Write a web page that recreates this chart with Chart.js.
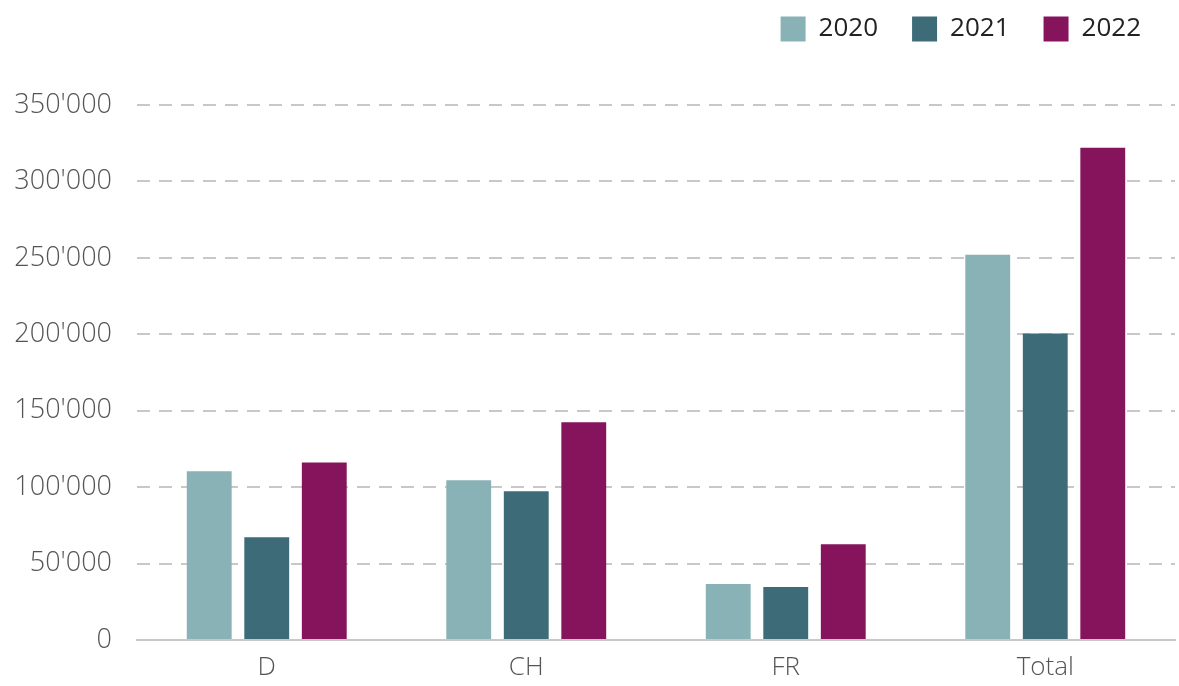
<!DOCTYPE html>
<html>
<head>
<meta charset="utf-8">
<style>
html,body{margin:0;padding:0;background:#fff;}
#wrap{width:1179px;height:686px;position:relative;}
</style>
<script src="https://cdn.jsdelivr.net/npm/chart.js@4"></script>
</head>
<body>
<div id="wrap"><canvas id="c" width="1179" height="686"></canvas></div>
<script>
const categories = ["D", "CH", "FR", "Total"];
const seriesNames = ["2020", "2021", "2022"];
const values2020 = [110400, 104500, 36600, 252000];
const values2021 = [67300, 97300, 34600, 200500];
const values2022 = [116200, 142400, 62700, 322000];
const yTicks = [0, 50000, 100000, 150000, 200000, 250000, 300000, 350000];
const colors = ["#88b2b5", "#3d6b78", "#85145c"];

function fmt(v){ return String(v).replace(/\B(?=(\d{3})+(?!\d))/g, "'"); }

const legendSpacer = {
  id: 'legendSpacer',
  beforeInit(chart){
    const origFit = chart.legend.fit;
    chart.legend.fit = function(){
      origFit.bind(chart.legend)();
      this.height += 53;
    };
  }
};

new Chart(document.getElementById('c'), {
  type: 'bar',
  data: {
    labels: categories,
    datasets: [values2020, values2021, values2022].map((d, i) => ({
      label: seriesNames[i],
      data: d,
      backgroundColor: colors[i],
      borderWidth: 0,
      categoryPercentage: 0.665,
      barPercentage: 0.78
    }))
  },
  plugins: [legendSpacer],
  options: {
    responsive: false,
    animation: false,
    layout: { padding: { left: 0, right: 4, top: -18, bottom: 0 } },
    plugins: {
      tooltip: { enabled: false },
      legend: {
        position: 'top',
        align: 'end',
        labels: {
          boxWidth: 25,
          boxHeight: 25,
          padding: 34,
          color: '#222',
          font: { family: "'Open Sans', sans-serif", size: 26 },
          generateLabels(chart){
            const items = Chart.defaults.plugins.legend.labels.generateLabels(chart);
            items.forEach(it => { it.lineWidth = 0; });
            return items;
          }
        }
      }
    },
    scales: {
      x: {
        grid: { display: false, drawTicks: false },
        border: { display: true, color: '#c8c8c8', width: 2 },
        ticks: {
          color: '#555',
          padding: 12,
          font: { family: "'Open Sans', sans-serif", size: 26, weight: 300 }
        },
        afterFit(scale){ scale.height = 46; }
      },
      y: {
        min: 0,
        max: 350000,
        afterBuildTicks(scale){ scale.ticks = yTicks.map(v => ({ value: v })); },
        grid: {
          color: (ctx) => ctx.tick && ctx.tick.value === 0 ? 'rgba(0,0,0,0)' : '#c8c8c8',
          lineWidth: 2,
          drawTicks: false
        },
        border: { display: false, dash: [13, 9] },
        ticks: {
          color: '#555',
          padding: 25,
          callback: (v) => fmt(v),
          font: { family: "'Open Sans', sans-serif", size: 27, weight: 300 }
        },
        afterFit(scale){ scale.width = 137; }
      }
    }
  }
});
</script>
</body>
</html>
